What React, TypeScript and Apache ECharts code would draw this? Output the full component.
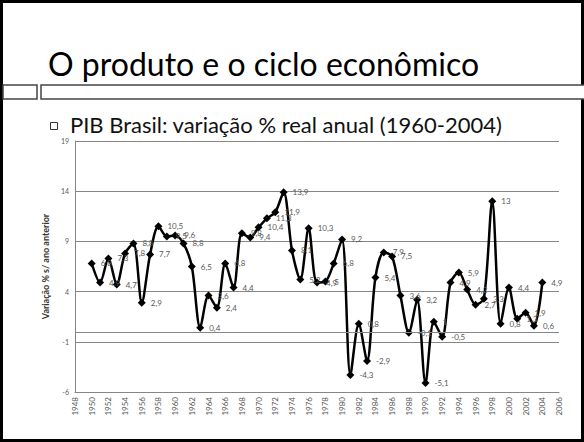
import React, { useEffect, useRef } from "react";
import * as echarts from "echarts";

const years = [
  1950, 1951, 1952, 1953, 1954, 1955, 1956, 1957, 1958, 1959,
  1960, 1961, 1962, 1963, 1964, 1965, 1966, 1967, 1968, 1969,
  1970, 1971, 1972, 1973, 1974, 1975, 1976, 1977, 1978, 1979,
  1980, 1981, 1982, 1983, 1984, 1985, 1986, 1987, 1988, 1989,
  1990, 1991, 1992, 1993, 1994, 1995, 1996, 1997, 1998, 1999,
  2000, 2001, 2002, 2003, 2004,
];
const growth = [
  6.8, 4.9, 7.3, 4.7, 7.8, 8.8, 2.9, 7.7, 10.5, 9.5,
  9.6, 8.8, 6.5, 0.4, 3.6, 2.4, 6.8, 4.4, 9.8, 9.4,
  10.4, 11.3, 11.9, 13.9, 8.1, 5.2, 10.3, 4.9, 5.0, 6.8,
  9.2, -4.3, 0.8, -2.9, 5.4, 7.9, 7.5, 3.6, -0.1, 3.2,
  -5.1, 1.0, -0.5, 4.9, 5.9, 4.2, 2.7, 3.3, 13, 0.8,
  4.4, 1.3, 1.9, 0.6, 4.9,
];
const xMin = 1948;
const xMax = 2006;
const xStep = 2;
const yMin = -6;
const yMax = 19;
const yStep = 5;
const zeroLine = 0;

const titleText = "O produto e o ciclo econômico";
const subtitleText = "PIB Brasil: variação % real anual (1960-2004)";
const yName = "Variação % s/ ano anterior";

const FONT = "Lato, 'Noto Sans', sans-serif";

const fmt = (v: number) =>
  Number.isInteger(v) ? String(v) : v.toFixed(1).replace(".", ",");

export default function App() {
  const ref = useRef<HTMLDivElement>(null);
  useEffect(() => {
    const chart = echarts.init(ref.current!, null, { renderer: "svg" });
    chart.setOption({
      animation: false,
      backgroundColor: "#ffffff",
      textStyle: { fontFamily: FONT },
      grid: { left: 75, top: 141, width: 484, height: 251 },
      graphic: [
        {
          type: "rect",
          shape: { x: 1.5, y: 1.5, width: 581, height: 439 },
          style: { fill: "none", stroke: "#000", lineWidth: 3 },
        },
        {
          type: "rect",
          shape: { x: 3, y: 85, width: 34, height: 14 },
          style: { fill: "#fff", stroke: "#444", lineWidth: 1.5 },
        },
        {
          type: "rect",
          shape: { x: 41, y: 85, width: 545, height: 14 },
          style: { fill: "#fff", stroke: "#444", lineWidth: 1.5 },
        },
        {
          type: "text",
          x: 48,
          y: 63,
          style: {
            text: titleText,
            fontSize: 32,
            fontFamily: FONT,
            fill: "#000",
            verticalAlign: "middle",
          },
        },
        {
          type: "rect",
          shape: { x: 50.5, y: 122.5, width: 7, height: 7 },
          style: { fill: "none", stroke: "#333", lineWidth: 1 },
        },
        {
          type: "text",
          x: 70,
          y: 124,
          style: {
            text: subtitleText,
            fontSize: 22,
            fontFamily: FONT,
            fill: "#111",
            verticalAlign: "middle",
          },
        },
      ],
      xAxis: {
        type: "value",
        min: xMin,
        max: xMax,
        interval: xStep,
        axisLine: { show: true, onZero: false, lineStyle: { color: "#868686", width: 1 } },
        axisTick: { show: false },
        splitLine: { show: false },
        axisLabel: {
          rotate: 90,
          fontSize: 8,
          color: "#595959",
          margin: 5,
          fontFamily: FONT,
          formatter: (v: number) => String(v),
        },
      },
      yAxis: {
        type: "value",
        min: yMin,
        max: yMax,
        interval: yStep,
        axisLine: { show: true, lineStyle: { color: "#868686", width: 1 } },
        axisTick: { show: false },
        splitLine: { show: true, lineStyle: { color: "#868686", width: 1 } },
        axisLabel: { fontSize: 7, color: "#595959", margin: 6, fontFamily: FONT },
        name: yName,
        nameLocation: "middle",
        nameGap: 17,
        nameTextStyle: { fontSize: 9, fontWeight: "bold", color: "#333", fontFamily: FONT },
      },
      series: [
        {
          type: "line",
          data: years.map((y, i) => [y, growth[i]]),
          smooth: 0.3,
          symbol: "diamond",
          symbolSize: 8,
          showAllSymbol: true,
          lineStyle: { color: "#000", width: 2.5 },
          itemStyle: { color: "#000" },
          label: {
            show: true,
            position: "right",
            distance: 5,
            fontSize: 8,
            color: "#595959",
            fontFamily: FONT,
            formatter: (p: any) => fmt(p.value[1]),
          },
          markLine: {
            silent: true,
            symbol: "none",
            label: { show: false },
            lineStyle: { color: "#868686", type: "solid", width: 1 },
            data: [{ yAxis: zeroLine }],
          },
        },
      ],
    });
    return () => chart.dispose();
  }, []);
  return (
    <div
      ref={ref}
      style={{ position: "absolute", left: 0, top: 0, width: 584, height: 442 }}
    />
  );
}
